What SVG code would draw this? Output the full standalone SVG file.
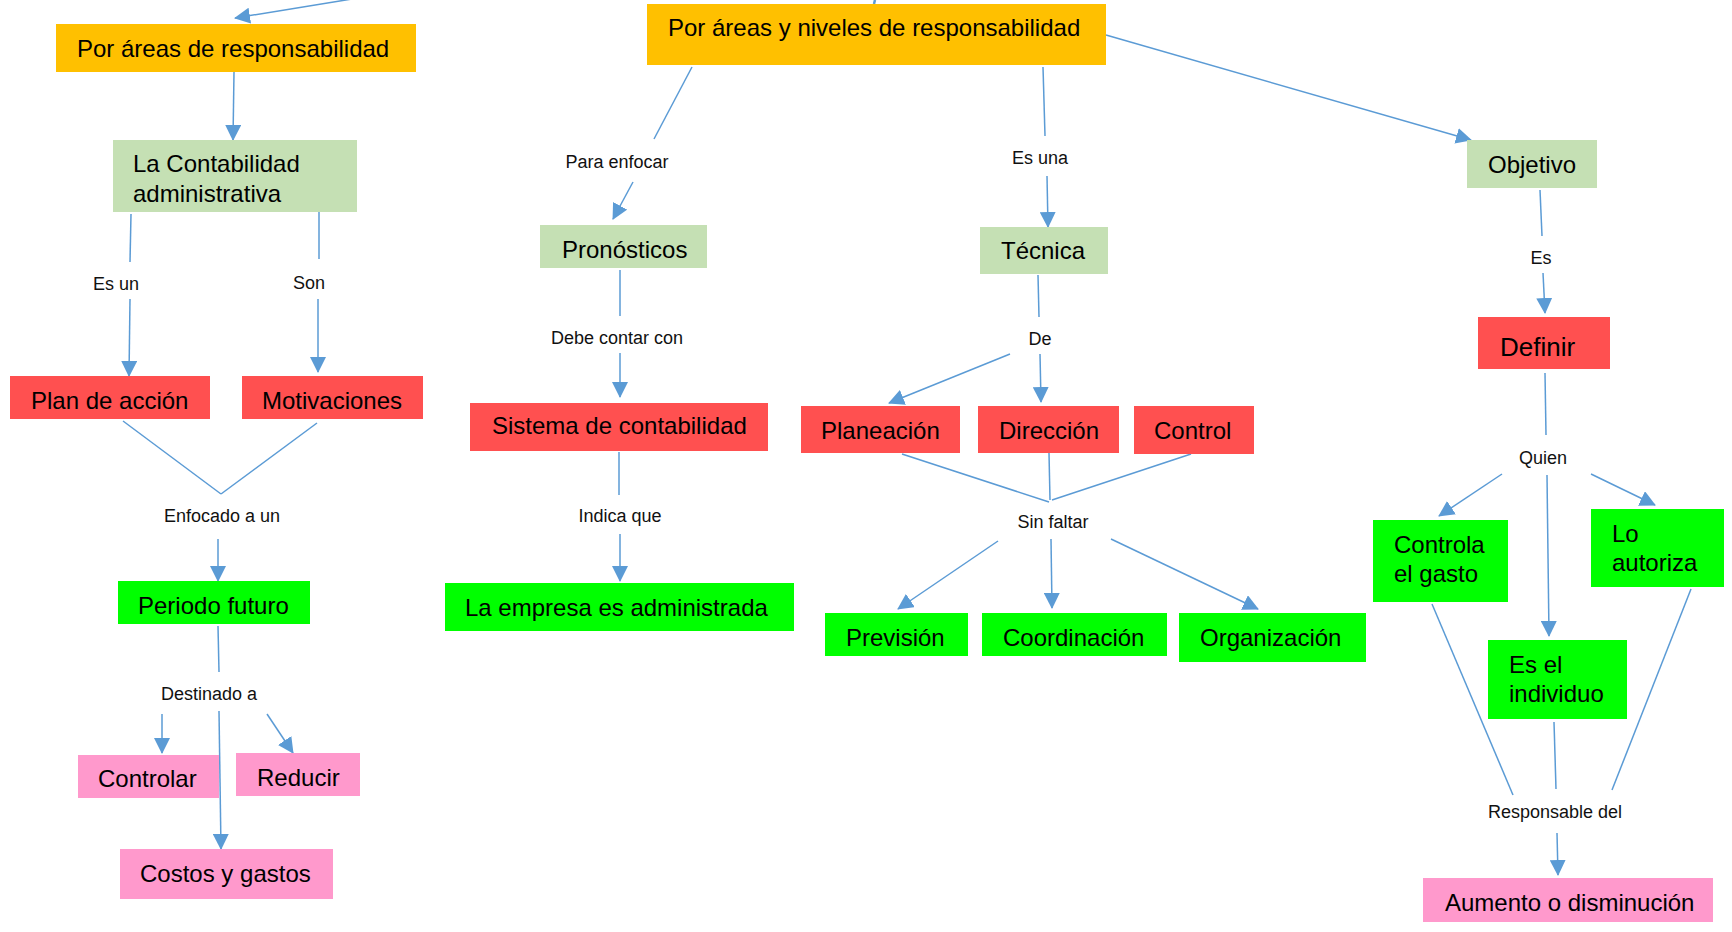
<svg xmlns="http://www.w3.org/2000/svg" width="1732" height="932" viewBox="0 0 1732 932">
<defs>
<marker id="arr" markerUnits="userSpaceOnUse" markerWidth="16" markerHeight="16" refX="15" refY="8" orient="auto">
<path d="M0,0 L16,8 L0,16 z" fill="#5B9BD5"/>
</marker>
<style>
.n text{font-family:"Liberation Sans",Arial,sans-serif;font-size:24px;fill:#000}
.or{fill:#FFC000}.lg{fill:#C5E0B4}.rd{fill:#FF5050}.gr{fill:#00FF00}.pk{fill:#FF99CC}
.c line{stroke:#5B9BD5;stroke-width:1.5;fill:none}
.c line.a{marker-end:url(#arr)}
.lb text{font-family:"Liberation Sans",Arial,sans-serif;font-size:18px;fill:#111;text-anchor:middle}
</style>
</defs>
<rect width="1732" height="932" fill="#fff"/>
<g id="connectors" class="c">
<line class="a" x1="352" y1="-1" x2="235" y2="18"/>
<line x1="875" y1="0" x2="874" y2="4" style="stroke-width:2.5"/>
<line class="a" x1="234" y1="72" x2="233" y2="140"/>
<line x1="131" y1="214" x2="130" y2="262"/>
<line class="a" x1="130" y1="299" x2="129" y2="376"/>
<line x1="319" y1="212" x2="319" y2="259"/>
<line class="a" x1="318" y1="299" x2="318" y2="372"/>
<line x1="123" y1="421" x2="221" y2="494"/>
<line x1="317" y1="423" x2="221" y2="494"/>
<line class="a" x1="218" y1="539" x2="218" y2="581"/>
<line x1="218" y1="626" x2="219" y2="672"/>
<line class="a" x1="162" y1="714" x2="162" y2="753"/>
<line class="a" x1="219" y1="711" x2="221" y2="849"/>
<line class="a" x1="267" y1="714" x2="293" y2="753"/>
<line x1="692" y1="67" x2="654" y2="139"/>
<line class="a" x1="633" y1="182" x2="613" y2="219"/>
<line x1="620" y1="270" x2="620" y2="316"/>
<line class="a" x1="620" y1="353" x2="620" y2="397"/>
<line x1="619" y1="452" x2="619" y2="495"/>
<line class="a" x1="620" y1="534" x2="620" y2="581"/>
<line x1="1043" y1="67" x2="1045" y2="136"/>
<line class="a" x1="1047" y1="176" x2="1048" y2="227"/>
<line x1="1038" y1="275" x2="1039" y2="317"/>
<line class="a" x1="1010" y1="354" x2="889" y2="403"/>
<line class="a" x1="1040" y1="354" x2="1041" y2="402"/>
<line x1="902" y1="454" x2="1049" y2="502"/>
<line x1="1049" y1="453" x2="1050" y2="500"/>
<line x1="1191" y1="454" x2="1052" y2="500"/>
<line class="a" x1="998" y1="541" x2="898" y2="609"/>
<line class="a" x1="1051" y1="539" x2="1052" y2="608"/>
<line class="a" x1="1111" y1="539" x2="1258" y2="609"/>
<line class="a" x1="1106" y1="35" x2="1471" y2="140"/>
<line x1="1540" y1="190" x2="1542" y2="236"/>
<line class="a" x1="1543" y1="273" x2="1545" y2="313"/>
<line x1="1545" y1="373" x2="1546" y2="435"/>
<line class="a" x1="1502" y1="474" x2="1439" y2="516"/>
<line class="a" x1="1547" y1="475" x2="1549" y2="636"/>
<line class="a" x1="1591" y1="474" x2="1655" y2="505"/>
<line x1="1432" y1="604" x2="1513" y2="795"/>
<line x1="1554" y1="722" x2="1556" y2="789"/>
<line x1="1691" y1="589" x2="1612" y2="790"/>
<line class="a" x1="1557" y1="833" x2="1558" y2="875"/>
</g>
<g id="labels" class="lb">
<text x="116" y="290">Es un</text>
<text x="309" y="289">Son</text>
<text x="222" y="522">Enfocado a un</text>
<text x="209" y="700">Destinado a</text>
<text x="617" y="168">Para enfocar</text>
<text x="617" y="344">Debe contar con</text>
<text x="620" y="522">Indica que</text>
<text x="1040" y="164">Es una</text>
<text x="1040" y="345">De</text>
<text x="1053" y="528">Sin faltar</text>
<text x="1541" y="264">Es</text>
<text x="1543" y="464">Quien</text>
<text x="1555" y="818">Responsable del</text>
</g>
<g id="n_area" class="n"><rect class="or" x="56" y="24" width="360" height="48"/><text x="77" y="57">Por áreas de responsabilidad</text></g>
<g id="n_niveles" class="n"><rect class="or" x="647" y="4" width="459" height="61"/><text x="668" y="36">Por áreas y niveles de responsabilidad</text></g>
<g id="n_contab" class="n"><rect class="lg" x="113" y="140" width="244" height="72"/><text x="133" y="172">La Contabilidad</text><text x="133" y="202">administrativa</text></g>
<g id="n_plan" class="n"><rect class="rd" x="10" y="376" width="200" height="43"/><text x="31" y="409">Plan de acción</text></g>
<g id="n_motiv" class="n"><rect class="rd" x="242" y="376" width="181" height="43"/><text x="262" y="409">Motivaciones</text></g>
<g id="n_periodo" class="n"><rect class="gr" x="118" y="581" width="192" height="43"/><text x="138" y="614">Periodo futuro</text></g>
<g id="n_controlar" class="n"><rect class="pk" x="78" y="755" width="141" height="43"/><text x="98" y="787">Controlar</text></g>
<g id="n_reducir" class="n"><rect class="pk" x="236" y="753" width="124" height="43"/><text x="257" y="786">Reducir</text></g>
<g id="n_costos" class="n"><rect class="pk" x="120" y="849" width="213" height="50"/><text x="140" y="882">Costos y gastos</text></g>
<g id="n_pron" class="n"><rect class="lg" x="540" y="225" width="167" height="43"/><text x="562" y="258">Pronósticos</text></g>
<g id="n_sistema" class="n"><rect class="rd" x="470" y="403" width="298" height="48"/><text x="492" y="434">Sistema de contabilidad</text></g>
<g id="n_empresa" class="n"><rect class="gr" x="445" y="583" width="349" height="48"/><text x="465" y="616">La empresa es administrada</text></g>
<g id="n_tecnica" class="n"><rect class="lg" x="980" y="227" width="128" height="47"/><text x="1001" y="259">Técnica</text></g>
<g id="n_plane" class="n"><rect class="rd" x="801" y="406" width="159" height="47"/><text x="821" y="439">Planeación</text></g>
<g id="n_direc" class="n"><rect class="rd" x="978" y="406" width="141" height="47"/><text x="999" y="439">Dirección</text></g>
<g id="n_control" class="n"><rect class="rd" x="1134" y="406" width="120" height="48"/><text x="1154" y="439">Control</text></g>
<g id="n_prev" class="n"><rect class="gr" x="825" y="613" width="143" height="43"/><text x="846" y="646">Previsión</text></g>
<g id="n_coord" class="n"><rect class="gr" x="982" y="613" width="185" height="43"/><text x="1003" y="646">Coordinación</text></g>
<g id="n_organ" class="n"><rect class="gr" x="1179" y="613" width="187" height="49"/><text x="1200" y="646">Organización</text></g>
<g id="n_objetivo" class="n"><rect class="lg" x="1467" y="140" width="130" height="48"/><text x="1488" y="173">Objetivo</text></g>
<g id="n_definir" class="n"><rect class="rd" x="1478" y="317" width="132" height="52"/><text x="1500" y="356" style="font-size:26px">Definir</text></g>
<g id="n_controla" class="n"><rect class="gr" x="1373" y="520" width="135" height="82"/><text x="1394" y="553">Controla</text><text x="1394" y="582">el gasto</text></g>
<g id="n_loaut" class="n"><rect class="gr" x="1591" y="509" width="133" height="78"/><text x="1612" y="542">Lo</text><text x="1612" y="571">autoriza</text></g>
<g id="n_esel" class="n"><rect class="gr" x="1488" y="640" width="139" height="79"/><text x="1509" y="673">Es el</text><text x="1509" y="702">individuo</text></g>
<g id="n_aumento" class="n"><rect class="pk" x="1423" y="878" width="290" height="44"/><text x="1445" y="911">Aumento o disminución</text></g>
</svg>
